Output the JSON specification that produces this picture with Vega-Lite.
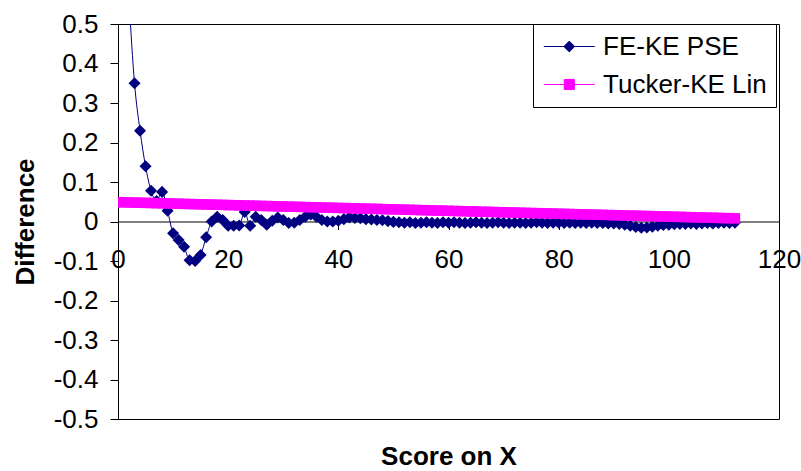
{
  "$schema": "https://vega.github.io/schema/vega-lite/v6.json",
  "width": 661,
  "height": 395,
  "autosize": "none",
  "padding": {"left": 118, "top": 24, "right": 22, "bottom": 52},
  "background": "white",
  "config": {
    "view": {"stroke": "#000000", "strokeWidth": 1},
    "font": "Liberation Sans"
  },
  "datasets": {
    "fe": [
      {"x": 2, "d": 0.56}, {"x": 3, "d": 0.35}, {"x": 4, "d": 0.23}, {"x": 5, "d": 0.14}, {"x": 6, "d": 0.078},
      {"x": 7, "d": 0.052}, {"x": 8, "d": 0.075}, {"x": 9, "d": 0.027}, {"x": 10, "d": -0.03}, {"x": 11, "d": -0.047},
      {"x": 12, "d": -0.064}, {"x": 13, "d": -0.098}, {"x": 14, "d": -0.1}, {"x": 15, "d": -0.085}, {"x": 16, "d": -0.04},
      {"x": 17, "d": 0.0}, {"x": 18, "d": 0.012}, {"x": 19, "d": 0.004}, {"x": 20, "d": -0.011}, {"x": 21, "d": -0.011},
      {"x": 22, "d": -0.01}, {"x": 23, "d": 0.024}, {"x": 24, "d": -0.011}, {"x": 25, "d": 0.012}, {"x": 26, "d": 0.004},
      {"x": 27, "d": -0.008}, {"x": 28, "d": 0.002}, {"x": 29, "d": 0.01}, {"x": 30, "d": 0.004}, {"x": 31, "d": -0.004},
      {"x": 32, "d": -0.003}, {"x": 33, "d": 0.004}, {"x": 34, "d": 0.012}, {"x": 35, "d": 0.018}, {"x": 36, "d": 0.012},
      {"x": 37, "d": 0.004}, {"x": 38, "d": 0.0}, {"x": 39, "d": 0.0}, {"x": 40, "d": 0.002}, {"x": 41, "d": 0.006},
      {"x": 42, "d": 0.01}, {"x": 43, "d": 0.009}, {"x": 44, "d": 0.008}, {"x": 45, "d": 0.006}, {"x": 46, "d": 0.005},
      {"x": 47, "d": 0.004}, {"x": 48, "d": 0.003}, {"x": 49, "d": 0.001}, {"x": 50, "d": -0.001}, {"x": 51, "d": -0.002},
      {"x": 52, "d": -0.003}, {"x": 53, "d": -0.002}, {"x": 54, "d": -0.004}, {"x": 55, "d": -0.003}, {"x": 56, "d": -0.002},
      {"x": 57, "d": -0.003}, {"x": 58, "d": -0.004}, {"x": 59, "d": -0.002}, {"x": 60, "d": -0.003}, {"x": 61, "d": -0.002},
      {"x": 62, "d": -0.003}, {"x": 63, "d": -0.004}, {"x": 64, "d": -0.003}, {"x": 65, "d": -0.002}, {"x": 66, "d": -0.003},
      {"x": 67, "d": -0.004}, {"x": 68, "d": -0.003}, {"x": 69, "d": -0.002}, {"x": 70, "d": -0.003}, {"x": 71, "d": -0.004},
      {"x": 72, "d": -0.003}, {"x": 73, "d": -0.003}, {"x": 74, "d": -0.004}, {"x": 75, "d": -0.003}, {"x": 76, "d": -0.002},
      {"x": 77, "d": -0.003}, {"x": 78, "d": -0.004}, {"x": 79, "d": -0.003}, {"x": 80, "d": -0.003}, {"x": 81, "d": -0.004},
      {"x": 82, "d": -0.003}, {"x": 83, "d": -0.004}, {"x": 84, "d": -0.003}, {"x": 85, "d": -0.004}, {"x": 86, "d": -0.003},
      {"x": 87, "d": -0.004}, {"x": 88, "d": -0.004}, {"x": 89, "d": -0.005}, {"x": 90, "d": -0.005}, {"x": 91, "d": -0.006},
      {"x": 92, "d": -0.008}, {"x": 93, "d": -0.011}, {"x": 94, "d": -0.014}, {"x": 95, "d": -0.016}, {"x": 96, "d": -0.015},
      {"x": 97, "d": -0.013}, {"x": 98, "d": -0.011}, {"x": 99, "d": -0.009}, {"x": 100, "d": -0.008}, {"x": 101, "d": -0.007},
      {"x": 102, "d": -0.006}, {"x": 103, "d": -0.006}, {"x": 104, "d": -0.005}, {"x": 105, "d": -0.006}, {"x": 106, "d": -0.005},
      {"x": 107, "d": -0.004}, {"x": 108, "d": -0.005}, {"x": 109, "d": -0.004}, {"x": 110, "d": -0.003}, {"x": 111, "d": -0.004},
      {"x": 112, "d": -0.003}
    ],
    "tk": [
      {"x": 0, "d": 0.049}, {"x": 1, "d": 0.0486}, {"x": 2, "d": 0.0483}, {"x": 3, "d": 0.0479}, {"x": 4, "d": 0.0475},
      {"x": 5, "d": 0.0472}, {"x": 6, "d": 0.0468}, {"x": 7, "d": 0.0464}, {"x": 8, "d": 0.0461}, {"x": 9, "d": 0.0457},
      {"x": 10, "d": 0.0453}, {"x": 11, "d": 0.045}, {"x": 12, "d": 0.0446}, {"x": 13, "d": 0.0442}, {"x": 14, "d": 0.0439},
      {"x": 15, "d": 0.0435}, {"x": 16, "d": 0.0431}, {"x": 17, "d": 0.0428}, {"x": 18, "d": 0.0424}, {"x": 19, "d": 0.042},
      {"x": 20, "d": 0.0417}, {"x": 21, "d": 0.0413}, {"x": 22, "d": 0.0409}, {"x": 23, "d": 0.0406}, {"x": 24, "d": 0.0402},
      {"x": 25, "d": 0.0399}, {"x": 26, "d": 0.0395}, {"x": 27, "d": 0.0391}, {"x": 28, "d": 0.0388}, {"x": 29, "d": 0.0384},
      {"x": 30, "d": 0.038}, {"x": 31, "d": 0.0377}, {"x": 32, "d": 0.0373}, {"x": 33, "d": 0.0369}, {"x": 34, "d": 0.0366},
      {"x": 35, "d": 0.0362}, {"x": 36, "d": 0.0358}, {"x": 37, "d": 0.0355}, {"x": 38, "d": 0.0351}, {"x": 39, "d": 0.0347},
      {"x": 40, "d": 0.0344}, {"x": 41, "d": 0.034}, {"x": 42, "d": 0.0336}, {"x": 43, "d": 0.0333}, {"x": 44, "d": 0.0329},
      {"x": 45, "d": 0.0325}, {"x": 46, "d": 0.0322}, {"x": 47, "d": 0.0318}, {"x": 48, "d": 0.0314}, {"x": 49, "d": 0.0311},
      {"x": 50, "d": 0.0307}, {"x": 51, "d": 0.0303}, {"x": 52, "d": 0.03}, {"x": 53, "d": 0.0296}, {"x": 54, "d": 0.0292},
      {"x": 55, "d": 0.0289}, {"x": 56, "d": 0.0285}, {"x": 57, "d": 0.0281}, {"x": 58, "d": 0.0278}, {"x": 59, "d": 0.0274},
      {"x": 60, "d": 0.027}, {"x": 61, "d": 0.0267}, {"x": 62, "d": 0.0263}, {"x": 63, "d": 0.0259}, {"x": 64, "d": 0.0256},
      {"x": 65, "d": 0.0252}, {"x": 66, "d": 0.0248}, {"x": 67, "d": 0.0245}, {"x": 68, "d": 0.0241}, {"x": 69, "d": 0.0237},
      {"x": 70, "d": 0.0234}, {"x": 71, "d": 0.023}, {"x": 72, "d": 0.0226}, {"x": 73, "d": 0.0223}, {"x": 74, "d": 0.0219},
      {"x": 75, "d": 0.0215}, {"x": 76, "d": 0.0212}, {"x": 77, "d": 0.0208}, {"x": 78, "d": 0.0204}, {"x": 79, "d": 0.0201},
      {"x": 80, "d": 0.0197}, {"x": 81, "d": 0.0194}, {"x": 82, "d": 0.019}, {"x": 83, "d": 0.0186}, {"x": 84, "d": 0.0183},
      {"x": 85, "d": 0.0179}, {"x": 86, "d": 0.0175}, {"x": 87, "d": 0.0172}, {"x": 88, "d": 0.0168}, {"x": 89, "d": 0.0164},
      {"x": 90, "d": 0.0161}, {"x": 91, "d": 0.0157}, {"x": 92, "d": 0.0153}, {"x": 93, "d": 0.015}, {"x": 94, "d": 0.0146},
      {"x": 95, "d": 0.0142}, {"x": 96, "d": 0.0139}, {"x": 97, "d": 0.0135}, {"x": 98, "d": 0.0131}, {"x": 99, "d": 0.0128},
      {"x": 100, "d": 0.0124}, {"x": 101, "d": 0.012}, {"x": 102, "d": 0.0117}, {"x": 103, "d": 0.0113}, {"x": 104, "d": 0.0109},
      {"x": 105, "d": 0.0106}, {"x": 106, "d": 0.0102}, {"x": 107, "d": 0.0098}, {"x": 108, "d": 0.0095}, {"x": 109, "d": 0.0091},
      {"x": 110, "d": 0.0087}, {"x": 111, "d": 0.0084}, {"x": 112, "d": 0.008}
    ]
  },
  "data": {"name": "fe"},
  "transform": [
    {"calculate": "'FE-KE PSE'", "as": "series"}
  ],
  "encoding": {
    "x": {
      "field": "x", "type": "quantitative",
      "scale": {"domain": [0, 120], "nice": false, "zero": false},
      "axis": {
        "values": [0, 20, 40, 60, 80, 100, 120],
        "offset": -197.5,
        "grid": false,
        "domainColor": "#000000", "tickColor": "#000000",
        "tickSize": 8, "labelPadding": 17,
        "labelFontSize": 26, "labelColor": "#000000", "labelFont": "Liberation Sans",
        "labelFlush": false, "labelOverlap": false,
        "title": "Score on X",
        "titleFontSize": 26, "titleFontWeight": "bold", "titleFont": "Liberation Sans", "titleColor": "#000000",
        "titleBaseline": "alphabetic", "titleY": 243, "titleX": 330.5, "titleAlign": "center"
      }
    },
    "y": {
      "field": "d", "type": "quantitative",
      "scale": {"domain": [-0.5, 0.5], "nice": false, "zero": false},
      "axis": {
        "values": [-0.5, -0.4, -0.3, -0.2, -0.1, 0, 0.1, 0.2, 0.3, 0.4, 0.5],
        "labelExpr": "datum.value == 0 ? '0' : (datum.value < 0 ? '-' : '') + format(abs(datum.value), '.1f')",
        "grid": false,
        "domainColor": "#000000", "tickColor": "#000000",
        "tickSize": 8, "labelPadding": 12,
        "labelFontSize": 26, "labelColor": "#000000", "labelFont": "Liberation Sans",
        "labelFlush": false, "labelOverlap": false,
        "title": "Difference",
        "titleFontSize": 26, "titleFontWeight": "bold", "titleFont": "Liberation Sans", "titleColor": "#000000",
        "titleAngle": -90, "titleBaseline": "alphabetic", "titleAlign": "center",
        "titleX": -85, "titleY": 197.5
      }
    }
  },
  "layer": [
    {
      "mark": {"type": "line", "interpolate": "monotone", "strokeWidth": 1, "clip": true},
      "encoding": {
        "color": {
          "field": "series", "type": "nominal",
          "scale": {"domain": ["FE-KE PSE", "Tucker-KE Lin"], "range": ["#000080", "#FF00FF"]},
          "legend": {
            "orient": "none", "legendX": 415, "legendY": 0,
            "title": null,
            "padding": 9, "rowPadding": 11,
            "fillColor": "#FFFFFF", "strokeColor": "#000000",
            "symbolSize": 676, "symbolStrokeWidth": 1,
            "labelOffset": 34, "labelFontSize": 26, "labelFont": "Liberation Sans", "labelColor": "#000000",
            "labelLimit": 400,
            "encode": {
              "symbols": {
                "update": {
                  "shape": {"signal": "datum.value === 'FE-KE PSE' ? 'M-0.9,0H3.02M1.06,-0.415L1.475,0L1.06,0.415L0.645,0Z' : 'M-0.9,0H3.02M0.67,-0.39H1.45V0.39H0.67Z'"},
                  "fill": {"signal": "datum.value === 'FE-KE PSE' ? '#000080' : '#FF00FF'"},
                  "stroke": {"signal": "datum.value === 'FE-KE PSE' ? '#000080' : '#FF00FF'"},
                  "opacity": {"value": 1},
                  "fillOpacity": {"value": 1},
                  "strokeOpacity": {"value": 1}
                }
              }
            }
          }
        }
      }
    },
    {
      "data": {"name": "tk"},
      "transform": [{"calculate": "'Tucker-KE Lin'", "as": "series"}],
      "mark": {"type": "line", "strokeWidth": 1, "clip": true},
      "encoding": {
        "color": {"field": "series", "type": "nominal"}
      }
    },
    {
      "mark": {"type": "point", "shape": "diamond", "filled": true, "size": 145, "opacity": 1, "clip": true, "color": "#000080"}
    },
    {
      "data": {"name": "tk"},
      "mark": {"type": "point", "shape": "square", "filled": true, "size": 110, "opacity": 1, "clip": true, "color": "#FF00FF"}
    }
  ]
}
